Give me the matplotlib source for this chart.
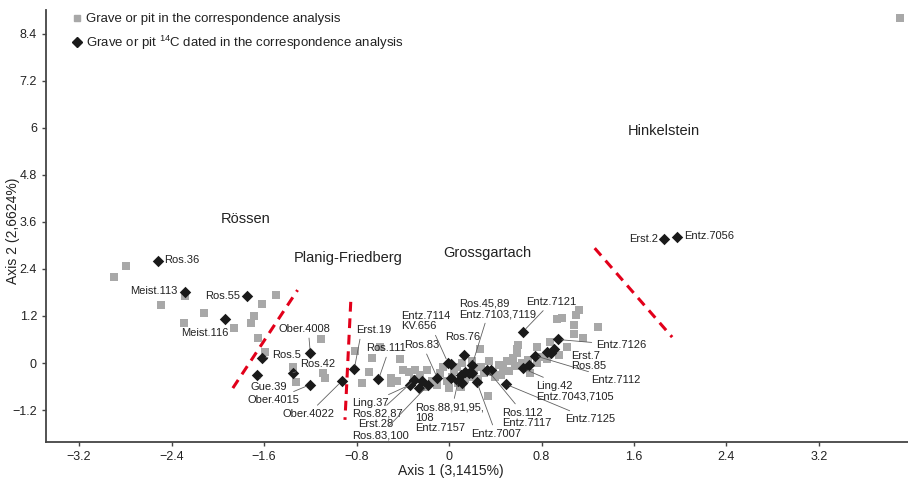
import matplotlib
matplotlib.use("Agg")
import matplotlib.pyplot as plt
from matplotlib.lines import Line2D

plt.rcParams['font.family'] = ['Liberation Sans', 'DejaVu Sans']
plt.rcParams['mathtext.fontset'] = 'custom'
plt.rcParams['mathtext.rm'] = 'Liberation Sans'

# ---- data ----
grey_x = [-2.79, -2.90, -2.28, -2.49, -2.12, -2.29, -1.86, -1.62, -1.50, -1.69, -1.71, -1.65,
          -1.59, -1.11, -1.35, -1.32, -1.09, -1.07,
          -0.81, -0.69, -0.75, -0.67, -0.50, -0.42, -0.35, -0.40, -0.50, -0.29, -0.19, -0.08,
          -0.25, -0.22, -0.15, -0.05, 0.04, 0.07, 0.11, 0.27, 0.34, 0.10, 0.14, 0.22, 0.28,
          0.38, 0.43, 0.50, 0.55, 0.59, 0.59, 0.60, 0.45, 0.52, 0.57, 0.63, 0.68, 0.70, 0.76,
          0.79, 0.76, 0.87, 1.02, 1.08, 1.16, 1.08, 1.29, 0.93, 0.98, 1.10, 1.12, 0.95, 0.85,
          0.03, -0.02, 0.18, 0.25, 0.30, 0.40, 0.47, 0.35, 0.20, -0.30, -0.10, 0.00, 0.08,
          -0.45, -0.60, 3.90]
grey_y = [2.47, 2.20, 1.72, 1.48, 1.28, 1.02, 0.90, 1.51, 1.74, 1.19, 1.03, 0.65,
          0.28, 0.61, -0.10, -0.48, -0.25, -0.37,
          0.31, -0.24, -0.52, 0.12, -0.38, 0.09, -0.24, -0.18, -0.52, -0.18, -0.18, -0.26,
          -0.30, -0.60, -0.45, -0.10, -0.18, -0.11, -0.01, 0.35, -0.85, -0.60, -0.40, -0.15, -0.10,
          -0.22, -0.05, 0.04, 0.12, 0.25, 0.37, 0.46, -0.30, -0.20, -0.08, 0.00, 0.08, -0.25, -0.01,
          0.16, 0.40, 0.54, 0.42, 0.73, 0.63, 0.97, 0.91, 1.11, 1.14, 1.22, 1.35, 0.20, 0.10,
          -0.35, -0.45, -0.35, -0.40, -0.25, -0.35, -0.12, 0.05, 0.05, -0.40, -0.55, -0.65, -0.50,
          -0.45, 0.40, 8.80]

dated_x = [-2.52, -2.28, -1.94, -1.75, -1.62, -1.66, -1.20, -1.35, -1.20, -0.93,
           -0.82, -0.61, -0.34, -0.30, -0.26, -0.23, -0.18, -0.10, -0.01, 0.02,
           0.13, 0.02, 0.08, 0.10, 0.17, 0.14, 0.20, 0.20, 0.24, 0.33,
           0.36, 0.49, 0.64, 0.64, 0.69, 0.74, 0.85, 0.88, 0.91, 0.94,
           1.86, 1.97, 0.11]
dated_y = [2.61, 1.82, 1.13, 1.72, 0.13, -0.30, 0.26, -0.25, -0.55, -0.47,
           -0.16, -0.42, -0.56, -0.43, -0.65, -0.46, -0.56, -0.39, 0.01, -0.02,
           0.21, -0.39, -0.45, -0.31, -0.26, -0.22, -0.05, -0.26, -0.48, -0.17,
           -0.19, -0.54, 0.80, -0.14, -0.05, 0.19, 0.28, 0.26, 0.35, 0.60,
           3.16, 3.22, -0.52]

# label text, index of dated point, text x, text y, ha, leader line
labels = [
    ("Ros.36", 0, -2.46, 2.63, 'left', False),
    ("Meist.113", 1, -2.35, 1.84, 'right', False),
    ("Meist.116", 2, -2.32, 0.77, 'left', False),
    ("Ros.55", 3, -1.81, 1.71, 'right', False),
    ("Ros.5", 4, -1.53, 0.20, 'left', True),
    ("Gue.39", 5, -1.72, -0.61, 'left', True),
    ("Ober.4008", 6, -1.25, 0.87, 'center', True),
    ("Ros.42", 7, -1.29, -0.03, 'left', True),
    ("Ober.4015", 8, -1.74, -0.94, 'left', True),
    ("Ober.4022", 9, -1.44, -1.30, 'left', True),
    ("Erst.19", 10, -0.80, 0.84, 'left', True),
    ("Ros.111", 11, -0.72, 0.38, 'left', True),
    ("Ling.37", 12, -0.84, -1.02, 'left', True),
    ("Ros.82,87", 13, -0.84, -1.30, 'left', True),
    ("Erst.28", 14, -0.79, -1.56, 'left', False),
    ("Ros.83,100", 16, -0.84, -1.84, 'left', True),
    ("Ros.83", 17, -0.24, 0.46, 'center', True),
    ("Entz.7114\nKV.656", 18, -0.41, 1.07, 'left', True),
    ("Ros.76", 20, -0.03, 0.66, 'left', False),
    ("Ros.45,89\nEntz.7103,7119", 26, 0.09, 1.38, 'left', True),
    ("Ros.88,91,95,\n108\nEntz.7157", 22, -0.29, -1.40, 'left', True),
    ("Entz.7007", 28, 0.19, -1.81, 'left', True),
    ("Ros.112\nEntz.7117", 29, 0.46, -1.40, 'left', True),
    ("Entz.7125", 31, 1.00, -1.43, 'left', True),
    ("Entz.7121", 32, 0.67, 1.56, 'left', True),
    ("Ling.42\nEntz.7043,7105", 33, 0.75, -0.71, 'left', True),
    ("Entz.7112", 35, 1.23, -0.43, 'left', True),
    ("Erst.7\nRos.85", 37, 1.06, 0.05, 'left', False),
    ("Entz.7126", 39, 1.27, 0.46, 'left', True),
    ("Erst.2", 40, 1.81, 3.16, 'right', False),
    ("Entz.7056", 41, 2.03, 3.24, 'left', False),
]
# where a leader line leaves its text (fraction of text box), default centre
leader_anchor = {"Erst.19": (0.12, 0.0), "Ros.111": (0.55, 0.0), "Ober.4008": (0.58, 0.0),
                 "Ros.83": (0.6, 0.0), "Entz.7114\nKV.656": (0.65, 0.0),
                 "Ros.45,89\nEntz.7103,7119": (0.35, 0.0)}

groups = ["Rössen", "Planig-Friedberg", "Grossgartach", "Hinkelstein"]
group_x = [-1.76, -0.87, 0.33, 1.86]
group_y = [3.67, 2.68, 2.81, 5.92]

# red dashed boundaries (x0, x1), (y0, y1)
bound_x = [(-1.87, -1.31), (-0.85, -0.90), (1.26, 1.93)]
bound_y = [(-0.64, 1.86), (1.56, -1.45), (2.93, 0.66)]

xticks = [-3.2, -2.4, -1.6, -0.8, 0, 0.8, 1.6, 2.4, 3.2]
yticks = [-1.2, 0, 1.2, 2.4, 3.6, 4.8, 6, 7.2, 8.4]

# ---- plot ----
fig = plt.figure(figsize=(9.08, 4.79), dpi=100)
ax = fig.add_axes([46/908, 37/479, 862/908, 432/479])

ax.scatter(grey_x, grey_y, marker='s', s=28, color='#a8a8a8', linewidths=0, zorder=2)
ax.scatter(dated_x, dated_y, marker='D', s=34, color='#1a1a1a', linewidths=0, zorder=4)

for bx, by in zip(bound_x, bound_y):
    ax.plot(bx, by, color='#e2001a', lw=2.2, linestyle=(0, (3.2, 2.2)), zorder=1)

for txt, i, tx, ty, ha, line in labels:
    ap = None
    if line:
        ap = dict(arrowstyle='-', color='#606060', lw=0.6, shrinkA=1, shrinkB=3,
                  relpos=leader_anchor.get(txt, (0.5, 0.5)))
    ax.annotate(txt, xy=(dated_x[i], dated_y[i]), xytext=(tx, ty), textcoords='data',
                ha=ha, va='center', fontsize=8, color='#222222', arrowprops=ap,
                linespacing=1.05, zorder=5)

for g, gx, gy in zip(groups, group_x, group_y):
    ax.text(gx, gy, g, ha='center', va='center', fontsize=10.5, color='#222222')

ax.set_xlim(-3.486, 3.97)
ax.set_ylim(-2.015, 9.005)
ax.set_xticks(xticks)
ax.set_yticks(yticks)
ax.set_xticklabels([f"{t:g}".replace('-', '\u2212') for t in xticks])
ax.set_yticklabels([f"{t:g}".replace('-', '\u2212') for t in yticks])
ax.tick_params(labelsize=9, length=3, width=1, color='#444444', labelcolor='#222222')
for s in ['top', 'right']:
    ax.spines[s].set_visible(False)
for s in ['left', 'bottom']:
    ax.spines[s].set_color('#444444')
    ax.spines[s].set_linewidth(1.3)

ax.set_xlabel("Axis 1 (3,1415%)", fontsize=10, color='#222222')
ax.set_ylabel("Axis 2 (2,6624%)", fontsize=10, color='#222222')
ax.xaxis.set_label_coords(0.47, -0.066)
ax.yaxis.set_label_coords(-0.038, 0.49)
ax.xaxis.label.set_va('center')
ax.yaxis.label.set_va('center')

handles = [Line2D([], [], marker='s', color='#a8a8a8', linestyle='none', markersize=5),
           Line2D([], [], marker='D', color='#1a1a1a', linestyle='none', markersize=5)]
leg = ax.legend(handles, ["Grave or pit in the correspondence analysis",
                          r"Grave or pit $^{\mathregular{14}}$C dated in the correspondence analysis"],
                loc='upper left', bbox_to_anchor=(0.013, 1.02), frameon=False, fontsize=9.5,
                handletextpad=0.1, handlelength=1.2, labelspacing=0.6)
for t in leg.get_texts():
    t.set_color('#222222')

fig.savefig("out.png", dpi=100)
